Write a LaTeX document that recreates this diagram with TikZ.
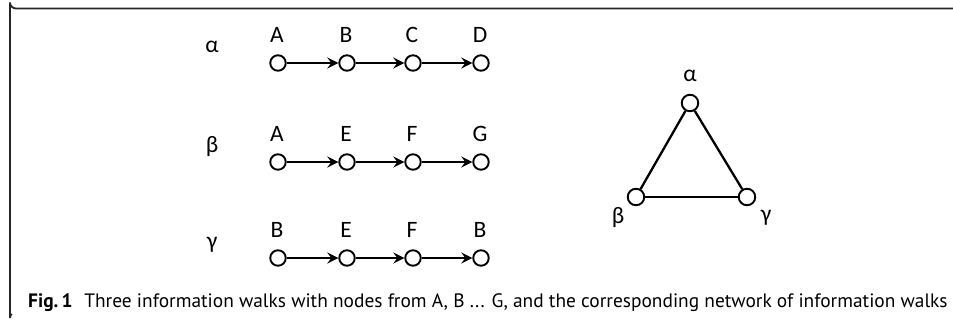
\documentclass[tikz,border=0pt]{standalone}
\usepackage{fontspec}
\setmainfont{Carlito}
\newfontfamily\capfont{PT Sans}
\usetikzlibrary{arrows.meta}
\begin{document}
\begin{tikzpicture}[x=1pt,y=-1pt,
  vtx/.style={circle,draw,line width=1.9pt,minimum size=15.5pt,inner sep=0pt,fill=white},
  lbl/.style={font=\fontsize{23.5}{25}\selectfont,inner sep=0pt},
  walk/.style={line width=2.1pt,-{Stealth[length=11pt,width=11pt,inset=4pt]}},
  edge/.style={line width=2.3pt}]
\useasboundingbox (0,0) rectangle (953,324);
% frame
\draw[line width=1.8pt,color=black!85] (953,8.5) -- (16,8.5) arc[start angle=90,end angle=180,radius=6] -- (10,318) arc[start angle=180,end angle=225,radius=6];
% row labels
\node[lbl] (la) at (212,47) {α};
\node[lbl] (lb) at (212,147) {β};
\node[lbl] (lg) at (212,245) {γ};
% walks
\foreach \i/\x/\t in {1/278/A,2/347/B,3/413/C,4/481/D}{
  \node[vtx] (a\i) at (\x,63) {};
  \node[lbl] (ta\i) at (\x-1,35) {\t};
}
\foreach \i/\x/\t in {1/278/A,2/347/E,3/413/F,4/481/G}{
  \node[vtx] (b\i) at (\x,162) {};
  \node[lbl] (tb\i) at (\x-1,134) {\t};
}
\foreach \i/\x/\t in {1/278/B,2/347/E,3/413/F,4/481/B}{
  \node[vtx] (g\i) at (\x,258) {};
  \node[lbl] (tg\i) at (\x-1,230) {\t};
}
\foreach \r in {a,b,g}{
  \draw[walk] (\r1) -- (\r2);
  \draw[walk] (\r2) -- (\r3);
  \draw[walk] (\r3) -- (\r4);
}
% triangle
\node[vtx,minimum size=16.5pt] (na) at (690,103) {};
\node[vtx,minimum size=16.5pt] (nb) at (636,197) {};
\node[vtx,minimum size=16.5pt] (ng) at (747,197) {};
\draw[edge] (na) -- (nb);
\draw[edge] (na) -- (ng);
\draw[edge] (nb) -- (ng);
\node[lbl] (tna) at (690,76) {α};
\node[lbl] (tnb) at (618,218) {β};
\node[lbl] (tng) at (766,218) {γ};
% caption
\node[anchor=west,inner sep=0pt,font=\capfont\fontsize{19.4}{22}\selectfont] (cap) at (28,303) {\textbf{Fig.\,1}\hspace{0.6em}Three information walks with nodes from A, B ... G, and the corresponding network of information walks};
\end{tikzpicture}
\end{document}
